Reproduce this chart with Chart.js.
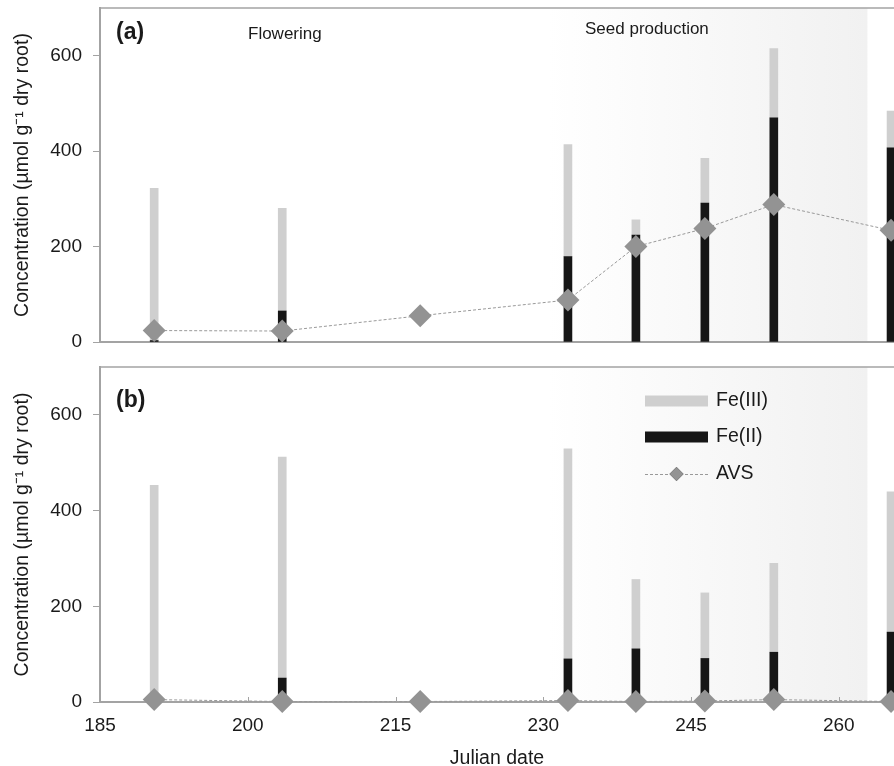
<!DOCTYPE html>
<html>
<head>
<meta charset="utf-8">
<script src="https://cdn.jsdelivr.net/npm/chart.js@4.4.0/dist/chart.umd.min.js"></script>
<style>
  html, body { margin: 0; padding: 0; background: #fff; overflow: hidden; }
  #wrap { position: relative; width: 894px; height: 766px; }
  canvas { position: absolute; left: 0; }
</style>
</head>
<body>
<div id="wrap">
  <canvas id="chartA" width="894" height="360" style="top:0"></canvas>
  <canvas id="chartB" width="894" height="406" style="top:360px"></canvas>
</div>
<script>
// sampling dates (Julian day)
const dates = [190.5, 203.5, 217.5, 232.5, 239.4, 246.4, 253.4, 265.3];

// panel (a)
const fe2A = [3, 65, null, 179, 224, 291, 470, 407];
const fe3A = [319, 215, null, 235, 32, 94, 145, 77];
const avsA = [24, 23, 55, 88, 200, 238, 288, 234];

// panel (b)
const fe2B = [0, 50, null, 90, 111, 91, 104, 146];
const fe3B = [453, 462, null, 439, 145, 137, 186, 293];
const avsB = [5, 1, 1, 3, 1, 2, 5, 1];

const xTicks = [185, 200, 215, 230, 245, 260];
const yTicks = [0, 200, 400, 600];
const xMin = 185, xMax = 265.6;
const yMax = 700;
const shadeFrom = 230.5, shadeTo = 262.9;

const FONT = "'Liberation Sans', Arial, sans-serif";
const AXIS = '#a3a3a3';

function pts(vals) {
    return dates.map((d, i) => ({ x: d, y: vals[i] }));
}

// shaded seed-production period
const shadePlugin = {
    id: 'shade',
    beforeDraw(chart) {
        const { ctx, chartArea } = chart;
        const xs = chart.scales.x;
        const x0 = xs.getPixelForValue(shadeFrom);
        const x1 = xs.getPixelForValue(shadeTo);
        const g = ctx.createLinearGradient(x0, 0, x1, 0);
        g.addColorStop(0, '#ffffff');
        g.addColorStop(1, '#f1f1f1');
        ctx.save();
        ctx.fillStyle = g;
        ctx.fillRect(x0, chartArea.top, x1 - x0, chartArea.bottom - chartArea.top);
        ctx.restore();
    }
};

// top frame line + inward x ticks
const framePlugin = {
    id: 'frame',
    afterDraw(chart, args, opts) {
        const { ctx, chartArea } = chart;
        ctx.save();
        ctx.strokeStyle = AXIS;
        ctx.lineWidth = 1.5;
        ctx.beginPath();
        ctx.moveTo(chartArea.left, chartArea.top);
        ctx.lineTo(chartArea.right, chartArea.top);
        ctx.stroke();
        if (opts.ticks) {
            const xs = chart.scales.x;
            ctx.lineWidth = 1;
            xTicks.forEach(v => {
                const px = Math.round(xs.getPixelForValue(v)) + 0.5;
                ctx.beginPath();
                ctx.moveTo(px, chartArea.bottom);
                ctx.lineTo(px, chartArea.bottom - 5);
                ctx.stroke();
            });
        }
        ctx.restore();
    }
};

// panel letters and period labels
const notesPlugin = {
    id: 'notes',
    afterDraw(chart, args, opts) {
        const ctx = chart.ctx;
        ctx.save();
        ctx.textBaseline = 'middle';
        ctx.textAlign = 'left';
        (opts.items || []).forEach(it => {
            ctx.font = it.font;
            ctx.fillStyle = '#1a1a1a';
            ctx.fillText(it.text, it.x, it.y);
        });
        ctx.restore();
    }
};

// legend drawn inside panel (b)
const legendPlugin = {
    id: 'boxLegend',
    afterDraw(chart, args, opts) {
        if (!opts.show) return;
        const ctx = chart.ctx;
        const ds = chart.data.datasets;
        const items = [ds[1], ds[0], ds[2]];
        const x0 = 645, x1 = 708;
        const ys = [41, 77, 114];
        ctx.save();
        ctx.font = '19.5px ' + FONT;
        ctx.textBaseline = 'middle';
        items.forEach((d, i) => {
            const y = ys[i];
            if (d.type === 'line') {
                ctx.strokeStyle = d.borderColor;
                ctx.lineWidth = 1;
                ctx.setLineDash([3, 2]);
                ctx.beginPath();
                ctx.moveTo(x0, y + 0.5);
                ctx.lineTo(x1, y + 0.5);
                ctx.stroke();
                ctx.setLineDash([]);
                Chart.helpers.drawPoint(ctx, { pointStyle: 'rectRot', radius: 7, borderWidth: 0 }, (x0 + x1) / 2, y);
                ctx.fillStyle = d.pointBackgroundColor;
                ctx.fill();
            } else {
                ctx.fillStyle = d.backgroundColor;
                ctx.fillRect(x0, y - 5.5, x1 - x0, 11);
            }
            ctx.fillStyle = '#1a1a1a';
            ctx.fillText(d.label, 716, y);
        });
        ctx.restore();
    }
};

function makeChart(id, fe2, fe3, avs, cfg) {
    return new Chart(document.getElementById(id), {
        type: 'bar',
        data: {
            datasets: [
                {
                    label: 'Fe(II)', data: pts(fe2), stack: 'fe', order: 1,
                    backgroundColor: '#161616', barThickness: 8, borderWidth: 0
                },
                {
                    label: 'Fe(III)', data: pts(fe3), stack: 'fe', order: 1,
                    backgroundColor: '#cfcfcf', barThickness: 8, borderWidth: 0
                },
                {
                    type: 'line', label: 'AVS', data: pts(avs), stack: 'avs', order: 0,
                    borderColor: '#999999', borderWidth: 1, borderDash: [3, 2],
                    pointStyle: 'rectRot', pointRadius: 11.5, pointBorderWidth: 0,
                    pointBackgroundColor: '#939393', pointBorderColor: '#939393',
                    fill: false, tension: 0, clip: false
                }
            ]
        },
        options: {
            responsive: false,
            animation: false,
            events: [],
            layout: { autoPadding: false, padding: { top: cfg.top, right: 0, bottom: 0, left: 0 } },
            scales: {
                x: {
                    type: 'linear',
                    min: xMin, max: xMax,
                    offset: false,
                    afterBuildTicks: s => { s.ticks = xTicks.map(v => ({ value: v })); },
                    afterFit: s => { s.height = cfg.xHeight; s.paddingLeft = 0; s.paddingRight = 0; },
                    grid: { display: false, drawTicks: false, tickLength: 0 },
                    border: { display: true, color: AXIS, width: 2 },
                    ticks: {
                        display: cfg.xLabels,
                        padding: 12,
                        color: '#1a1a1a',
                        font: { family: FONT, size: 19 }
                    },
                    title: {
                        display: cfg.xLabels,
                        text: 'Julian date',
                        color: '#1a1a1a',
                        font: { family: FONT, size: 19.5, lineHeight: 1 },
                        padding: { top: 0, bottom: -2 }
                    }
                },
                y: {
                    stacked: true,
                    min: 0, max: yMax,
                    afterBuildTicks: s => { s.ticks = yTicks.map(v => ({ value: v })); },
                    afterFit: s => { s.width = 100; s.paddingTop = 0; s.paddingBottom = 0; },
                    grid: { drawOnChartArea: false, drawTicks: true, tickLength: 7, color: AXIS, lineWidth: 1 },
                    border: { display: true, color: AXIS, width: 2 },
                    ticks: {
                        padding: 11,
                        color: '#1a1a1a',
                        font: { family: FONT, size: 19 }
                    },
                    title: {
                        display: true,
                        text: 'Concentration (µmol g⁻¹ dry root)',
                        color: '#1a1a1a',
                        font: { family: FONT, size: 19.5 },
                        padding: { top: 11, bottom: 0 }
                    }
                }
            },
            plugins: {
                legend: { display: false },
                tooltip: { enabled: false },
                frame: { ticks: cfg.xLabels },
                notes: { items: cfg.notes },
                boxLegend: { show: cfg.legend }
            }
        },
        plugins: [shadePlugin, framePlugin, notesPlugin, legendPlugin]
    });
}

makeChart('chartA', fe2A, fe3A, avsA, {
    top: 8, xHeight: 18, xLabels: false, legend: false,
    notes: [
        { text: '(a)', x: 116, y: 33, font: 'bold 23px ' + FONT },
        { text: 'Flowering', x: 248, y: 34, font: '17px ' + FONT },
        { text: 'Seed production', x: 585, y: 29, font: '17px ' + FONT }
    ]
});

makeChart('chartB', fe2B, fe3B, avsB, {
    top: 7, xHeight: 64, xLabels: true, legend: true,
    notes: [
        { text: '(b)', x: 116, y: 41, font: 'bold 23px ' + FONT }
    ]
});
</script>
</body>
</html>
